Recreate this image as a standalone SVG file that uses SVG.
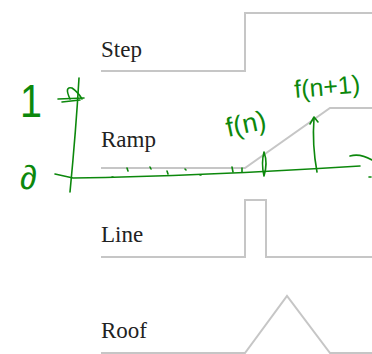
<svg xmlns="http://www.w3.org/2000/svg" width="372" height="354" viewBox="0 0 372 354">
  <style>
    .lbl { font-family: "Liberation Serif", "Times New Roman", serif; font-size: 23px; fill: #222; }
    .prof { fill: none; stroke: #c6c6c6; stroke-width: 2; stroke-linejoin: miter; }
    .ink { fill: none; stroke: #0c880c; stroke-width: 1.6; stroke-linecap: round; stroke-linejoin: round; }
    .hand { font-family: "Liberation Sans", "DejaVu Sans", sans-serif; fill: #0c880c; }
  </style>
  <rect width="372" height="354" fill="#fff"/>

  <!-- edge profiles -->
  <g id="step">
    <text class="lbl" x="101" y="57">Step</text>
    <path class="prof" d="M101,71 H245 V13 H372"/>
  </g>
  <g id="ramp">
    <text class="lbl" x="101" y="147">Ramp</text>
    <path class="prof" d="M101,168 H245 L330,108 H372"/>
  </g>
  <g id="line">
    <text class="lbl" x="101" y="242">Line</text>
    <path class="prof" d="M101,257 H245 V200 H266 V257 H372"/>
  </g>
  <g id="roof">
    <text class="lbl" x="101" y="338">Roof</text>
    <path class="prof" d="M101,353 H245 L287,296 L330,353 H372"/>
  </g>

  <!-- green annotations -->
  <g id="annotations">
    <text class="hand" x="20" y="117" font-size="46" textLength="22" lengthAdjust="spacingAndGlyphs">1</text>
    <text class="hand" x="20" y="189" font-size="34">∂</text>
    <text class="hand" x="228" y="137" font-size="27" transform="rotate(-12 228 137)">f(n)</text>
    <text class="hand" x="295" y="98" font-size="25" textLength="66" lengthAdjust="spacingAndGlyphs" transform="rotate(-5 295 98)">f(n+1)</text>
  </g>

  <g id="connectors">
    <!-- vertical axis with marker at 1 -->
    <path class="ink" d="M79,78 Q76,130 70,192"/>
    <path class="ink" d="M58,99 L84,98"/>
    <path class="ink" d="M62,102 L80,100"/>
    <path class="ink" d="M70,99 Q64,86 72,88 Q78,92 82,99"/>
    <!-- horizontal axis -->
    <path class="ink" d="M55,174 L73,178 Q200,176 360,166"/>
    <path class="ink" d="M350,156 Q360,153 372,160"/>
    <path class="ink" d="M369,177 L371,177"/>
    <!-- ticks along ramp base -->
    <path class="ink" d="M127,168 l1,3 M150,167 l1,2 M167,171 l1,3 M185,169 l1,1 M232,167 l1,5 M242,168 l0,4 M200,175 l1,0 M112,177 l1,0"/>
    <!-- f(n) sample mark -->
    <path class="ink" d="M264,152 Q261,163 264,176 Q268,163 264,152"/>
    <!-- f(n+1) arrow -->
    <path class="ink" d="M317,172 Q312,145 314,118"/>
    <path class="ink" d="M310,124 L314,117 L318,122"/>
  </g>
</svg>
